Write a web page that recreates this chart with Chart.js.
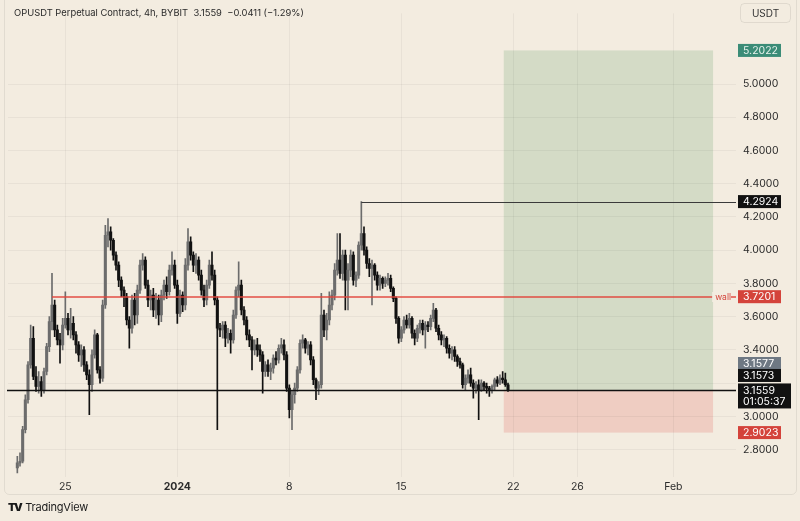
<!DOCTYPE html>
<html>
<head>
<meta charset="utf-8">
<script src="https://cdn.jsdelivr.net/npm/chart.js@4.4.1/dist/chart.umd.min.js"></script>
<style>
  html, body { margin: 0; padding: 0; background: #f3ece0; }
  #wrap { position: relative; width: 800px; height: 521px; overflow: hidden; }
  #title { position: absolute; left: 14px; top: 7px; font: 9.4px Inter, "Noto Sans", sans-serif; color: #2a2a2a; white-space: pre; }
  #logo { position: absolute; left: 8px; top: 500px; font: 11px Inter, sans-serif; color: #1a1a1a; letter-spacing: -0.2px; }
  #logo b { font-weight: 900; letter-spacing: -1.5px; margin-right: 4px; }
</style>
</head>
<body>
<div id="wrap">
  <canvas id="c" width="800" height="521"></canvas>
  <div id="title">OPUSDT Perpetual Contract, 4h, BYBIT  3.1559  −0.0411 (−1.29%)</div>
  <div id="logo"><b>TV</b>TradingView</div>
</div>
<script>
// ---- time axis: 4h slots from Dec 21 2023 12:00 ----
const slotCount = 273;
const startTime = Date.UTC(2023, 11, 21, 12);
const xTickSlots = [21, 63, 105, 147, 189, 213, 249];
const xTickTexts = ["25", "2024", "8", "15", "22", "26", "Feb"];

// ---- y axis ----
const yMin = 2.635, yMax = 5.4256;
const yTicks = [2.8, 3.0, 3.2, 3.4, 3.6, 3.8, 4.0, 4.2, 4.4, 4.6, 4.8, 5.0];
const yHidden = [3.2];

// ---- candles (first candle at slot 3, open of each = previous close) ----
const firstSlot = 3;
const firstOpen = 2.69;
const closes = [
  2.72, 2.73, 2.92, 3.10, 3.31, 3.47, 3.24, 3.18, 3.21, 3.16,
  3.27, 3.42, 3.57, 3.67, 3.52, 3.46, 3.43, 3.55, 3.59, 3.52,
  3.56, 3.49, 3.43, 3.37, 3.40, 3.31, 3.25, 3.19, 3.37, 3.49,
  3.28, 3.23, 3.67, 4.09, 4.11, 4.06, 3.97, 3.91, 3.82, 3.76,
  3.72, 3.58, 3.53, 3.70, 3.61, 3.76, 3.91, 3.94, 3.79, 3.70,
  3.73, 3.64, 3.70, 3.61, 3.73, 3.79, 3.75, 3.88, 3.91, 3.79,
  3.62, 3.73, 3.67, 3.91, 4.05, 3.97, 3.91, 3.94, 3.85, 3.76,
  3.70, 3.79, 3.91, 3.85, 3.70, 3.53, 3.52, 3.55, 3.47, 3.50,
  3.46, 3.61, 3.76, 3.79, 3.64, 3.58, 3.49, 3.46, 3.40, 3.43,
  3.40, 3.37, 3.27, 3.31, 3.27, 3.29, 3.35, 3.34, 3.41, 3.43,
  3.37, 3.17, 3.04, 3.13, 3.17, 3.28, 3.44, 3.46, 3.41, 3.43,
  3.34, 3.22, 3.17, 3.19, 3.61, 3.52, 3.58, 3.67, 3.73, 3.88,
  3.94, 3.86, 3.97, 3.82, 3.88, 3.97, 3.82, 3.85, 4.03, 4.10,
  4.00, 3.92, 3.89, 3.91, 3.85, 3.79, 3.83, 3.80, 3.82, 3.83,
  3.77, 3.71, 3.59, 3.47, 3.52, 3.58, 3.55, 3.59, 3.50, 3.47,
  3.53, 3.56, 3.52, 3.55, 3.54, 3.59, 3.64, 3.53, 3.49, 3.46,
  3.47, 3.41, 3.38, 3.40, 3.36, 3.33, 3.31, 3.19, 3.23, 3.25,
  3.20, 3.17, 3.19, 3.16, 3.20, 3.18, 3.17, 3.16, 3.18, 3.22,
  3.20, 3.23, 3.22, 3.19, 3.1559
];
const highs = [
  2.76, 2.78, 2.94, 3.13, 3.33, 3.55, 3.54, 3.30, 3.27, 3.24,
  3.29, 3.44, 3.60, 3.86, 3.70, 3.55, 3.50, 3.59, 3.75, 3.62,
  3.65, 3.60, 3.51, 3.45, 3.43, 3.42, 3.33, 3.28, 3.40, 3.52,
  3.50, 3.30, 3.70, 4.15, 4.19, 4.14, 4.07, 3.99, 3.93, 3.84,
  3.78, 3.74, 3.60, 3.73, 3.74, 3.79, 3.94, 3.98, 3.96, 3.82,
  3.76, 3.77, 3.74, 3.73, 3.76, 3.82, 3.84, 3.91, 3.99, 3.94,
  3.82, 3.76, 3.75, 3.95, 4.13, 4.08, 3.99, 3.98, 3.96, 3.88,
  3.79, 3.82, 3.94, 3.99, 3.88, 3.72, 3.56, 3.57, 3.57, 3.53,
  3.52, 3.64, 3.78, 3.93, 3.82, 3.66, 3.60, 3.52, 3.48, 3.46,
  3.47, 3.43, 3.39, 3.33, 3.34, 3.32, 3.37, 3.39, 3.43, 3.47,
  3.46, 3.39, 3.19, 3.15, 3.20, 3.30, 3.46, 3.49, 3.47, 3.45,
  3.45, 3.36, 3.23, 3.21, 3.74, 3.64, 3.62, 3.75, 3.76, 3.92,
  4.10, 4.10, 4.00, 4.00, 3.92, 4.00, 3.99, 3.87, 4.05, 4.2924,
  4.14, 4.02, 3.95, 3.94, 3.92, 3.87, 3.85, 3.84, 3.84, 3.86,
  3.85, 3.78, 3.72, 3.60, 3.54, 3.60, 3.61, 3.62, 3.60, 3.52,
  3.55, 3.58, 3.58, 3.57, 3.57, 3.61, 3.68, 3.65, 3.55, 3.51,
  3.49, 3.48, 3.43, 3.42, 3.42, 3.37, 3.35, 3.32, 3.25, 3.28,
  3.29, 3.22, 3.21, 3.22, 3.22, 3.21, 3.20, 3.18, 3.19, 3.23,
  3.24, 3.25, 3.27, 3.26, 3.20
];
const lows = [
  2.66, 2.70, 2.72, 2.90, 3.08, 3.29, 3.22, 3.15, 3.14, 3.12,
  3.14, 3.25, 3.39, 3.52, 3.48, 3.43, 3.32, 3.40, 3.53, 3.49,
  3.47, 3.46, 3.38, 3.33, 3.30, 3.27, 3.22, 3.01, 3.15, 3.35,
  3.26, 3.20, 3.21, 3.65, 4.02, 4.00, 3.94, 3.88, 3.78, 3.72,
  3.66, 3.55, 3.41, 3.50, 3.55, 3.56, 3.74, 3.88, 3.77, 3.66,
  3.64, 3.60, 3.59, 3.55, 3.57, 3.70, 3.71, 3.73, 3.85, 3.77,
  3.56, 3.60, 3.63, 3.64, 3.88, 3.94, 3.87, 3.86, 3.82, 3.73,
  3.66, 3.67, 3.77, 3.82, 3.67, 2.92, 3.48, 3.47, 3.42, 3.44,
  3.38, 3.44, 3.59, 3.72, 3.61, 3.55, 3.46, 3.42, 3.28, 3.37,
  3.36, 3.33, 3.14, 3.24, 3.24, 3.22, 3.26, 3.31, 3.32, 3.38,
  3.34, 3.15, 2.99, 2.92, 3.08, 3.15, 3.26, 3.41, 3.38, 3.37,
  3.31, 3.19, 3.10, 3.13, 3.17, 3.48, 3.46, 3.55, 3.64, 3.70,
  3.85, 3.83, 3.82, 3.64, 3.64, 3.84, 3.79, 3.78, 3.83, 4.00,
  3.97, 3.89, 3.84, 3.67, 3.82, 3.76, 3.76, 3.77, 3.78, 3.79,
  3.75, 3.69, 3.56, 3.44, 3.45, 3.50, 3.53, 3.53, 3.47, 3.43,
  3.45, 3.50, 3.49, 3.41, 3.51, 3.52, 3.57, 3.51, 3.46, 3.43,
  3.42, 3.38, 3.35, 3.34, 3.33, 3.30, 3.29, 3.17, 3.16, 3.20,
  3.18, 3.11, 3.14, 2.98, 3.15, 3.16, 3.14, 3.12, 3.14, 3.16,
  3.18, 3.19, 3.20, 3.18, 3.15
];

// ---- drawings ----
const entryPrice = 3.1559, targetPrice = 5.2022, stopPrice = 2.9023;
const positionFromSlot = 185.4, positionToSlot = 263.9;
const wallPrice = 3.7201, wallFromSlot = 16;
const highPrice = 4.2924, highFromSlot = 132;

// axis tags: text, price where the tag sits (stacked like TradingView), colour
const tagTexts  = ["5.2022", "4.2924", "3.7201", "3.1577", "3.1573", "2.9023"];
const tagPrices = [5.2022, 4.2924, 3.7201, 3.318, 3.246, 2.9023];
const tagColors = ["#3b8c77", "#111111", "#d4433b", "#6e7883", "#111111", "#d4433b"];
const countdown = "01:05:37";

const UP = "#6c6c6c", DOWN = "#111111";
const BG = "#f3ece0";

/* ---------- build datasets ---------- */
const labels = [];
for (let i = 0; i < slotCount; i++) {
  const d = new Date(startTime + i * 4 * 3600 * 1000);
  labels.push(d.toISOString().slice(0, 16));
}
const bodies = new Array(slotCount).fill(null);
const wicks = new Array(slotCount).fill(null);
const colors = new Array(slotCount).fill(UP);
closes.forEach((c, i) => {
  const s = firstSlot + i;
  const o = i === 0 ? firstOpen : closes[i - 1];
  bodies[s] = [o, c];
  wicks[s] = [lows[i], highs[i]];
  colors[s] = c >= o ? UP : DOWN;
});

/* ---------- custom drawing ---------- */
function tag(ctx, x, yc, w, h, bg, fg, text) {
  ctx.fillStyle = bg;
  ctx.fillRect(x, yc - h / 2, w, h);
  ctx.fillStyle = fg;
  ctx.textAlign = "left";
  ctx.textBaseline = "middle";
  ctx.fillText(text, x + 5, yc + 0.5);
}

const overlay = {
  id: "overlay",
  beforeDraw(chart) {
    const {ctx, scales: {x, y}} = chart;
    ctx.save();
    ctx.fillStyle = BG;
    ctx.fillRect(0, 0, chart.width, chart.height);
    const x1 = x.getPixelForValue(positionFromSlot);
    const x2 = x.getPixelForValue(positionToSlot);
    const yT = y.getPixelForValue(targetPrice);
    const yE = y.getPixelForValue(entryPrice);
    const yS = y.getPixelForValue(stopPrice);
    ctx.fillStyle = "#d4dbc6";
    ctx.fillRect(x1, yT, x2 - x1, yE - yT);
    ctx.fillStyle = "#efcdc2";
    ctx.fillRect(x1, yE, x2 - x1, yS - yE);
    ctx.restore();
  },
  afterDatasetsDraw(chart) {
    const {ctx, chartArea: a, scales: {x, y}} = chart;
    ctx.save();
    // wall line
    let yy = Math.round(y.getPixelForValue(wallPrice));
    ctx.fillStyle = "#e2443a";
    const wx = x.getPixelForValue(wallFromSlot);
    ctx.fillRect(wx, yy - 0.7, a.right - wx, 1.4);
    ctx.font = "8.5px Inter, sans-serif";
    const tw = ctx.measureText("wall").width;
    ctx.fillStyle = BG;
    ctx.fillRect(a.right - tw - 8, yy - 5, tw + 3, 10);
    ctx.fillStyle = "#d4433b";
    ctx.textAlign = "right";
    ctx.textBaseline = "middle";
    ctx.fillText("wall", a.right - 5, yy);
    // high ray
    yy = Math.round(y.getPixelForValue(highPrice)) + 0.5;
    ctx.strokeStyle = "#3a3a3a";
    ctx.lineWidth = 1;
    ctx.beginPath();
    ctx.moveTo(x.getPixelForValue(highFromSlot), yy);
    ctx.lineTo(a.right, yy);
    ctx.stroke();
    // entry / price line
    yy = y.getPixelForValue(entryPrice);
    ctx.strokeStyle = "#111";
    ctx.lineWidth = 1.6;
    ctx.beginPath();
    ctx.moveTo(a.left - 1, yy);
    ctx.lineTo(a.right, yy);
    ctx.stroke();
    ctx.restore();
  },
  afterDraw(chart) {
    const {ctx, chartArea: a, scales: {y}} = chart;
    ctx.save();
    ctx.font = "10.5px Inter, sans-serif";
    const tx = a.right + 2;
    tagTexts.forEach((t, i) => {
      const fg = tagColors[i] === "#3b8c77" ? "#e6f2ec" : "#ffffff";
      tag(ctx, tx, y.getPixelForValue(tagPrices[i]), 43, 13, tagColors[i], fg, t);
    });
    // last price + countdown
    const ye = y.getPixelForValue(entryPrice);
    ctx.fillStyle = "#111";
    ctx.fillRect(tx, ye - 7, 53, 25);
    ctx.fillStyle = "#fff";
    ctx.textAlign = "left";
    ctx.textBaseline = "middle";
    ctx.fillText(entryPrice.toFixed(4), tx + 5, ye);
    ctx.fillText(countdown, tx + 5, ye + 11);
    // currency box
    ctx.strokeStyle = "rgba(0,0,0,0.08)";
    ctx.lineWidth = 1;
    ctx.beginPath();
    ctx.roundRect(740.5, 3.5, 50, 19, 4);
    ctx.stroke();
    ctx.fillStyle = "#333";
    ctx.textAlign = "center";
    ctx.font = "10px Inter, sans-serif";
    ctx.fillText("USDT", 765.5, 13.5);
    // outer frame
    ctx.strokeStyle = "rgba(0,0,0,0.07)";
    ctx.beginPath();
    ctx.roundRect(4.5, -6.5, 792, 501, 5);
    ctx.stroke();
    ctx.restore();
  }
};

/* ---------- chart ---------- */
new Chart(document.getElementById("c"), {
  type: "bar",
  data: {
    labels,
    datasets: [
      {
        data: bodies,
        backgroundColor: colors,
        barThickness: 2.4,
        minBarLength: 1,
        grouped: false,
        borderWidth: 0
      },
      {
        data: wicks,
        backgroundColor: colors,
        barThickness: 1,
        minBarLength: 1,
        grouped: false,
        borderWidth: 0
      }
    ]
  },
  options: {
    responsive: false,
    animation: false,
    events: [],
    layout: { autoPadding: false, padding: { left: 8, right: 0, top: 0, bottom: 26 } },
    plugins: { legend: { display: false }, tooltip: { enabled: false } },
    scales: {
      x: {
        offset: true,
        border: { display: false },
        grid: {
          drawTicks: false,
          offset: false,
          color: ctx => xTickSlots.includes(ctx.index) ? "rgba(0,0,0,0.045)" : "transparent"
        },
        ticks: {
          autoSkip: false,
          maxRotation: 0,
          padding: 4,
          color: "#2b2b2b",
          font: ctx => ({ size: 10.5, family: "Inter, sans-serif",
                          weight: ctx.index === 63 ? "bold" : "normal" }),
          callback: (v, i) => {
            const k = xTickSlots.indexOf(i);
            return k >= 0 ? xTickTexts[k] : "";
          }
        },
        afterFit: s => { s.height = 18; }
      },
      y: {
        position: "right",
        min: yMin,
        max: yMax,
        border: { display: false },
        grid: { drawTicks: false, color: "rgba(0,0,0,0.045)" },
        afterBuildTicks: s => { s.ticks = yTicks.map(v => ({ value: v })); },
        ticks: {
          padding: 7,
          color: "#2b2b2b",
          font: { size: 10.5, family: "Inter, sans-serif" },
          callback: v => yHidden.includes(v) ? "" : Number(v).toFixed(4)
        },
        afterFit: s => { s.width = 64; }
      }
    }
  },
  plugins: [overlay]
});
</script>
</body>
</html>
